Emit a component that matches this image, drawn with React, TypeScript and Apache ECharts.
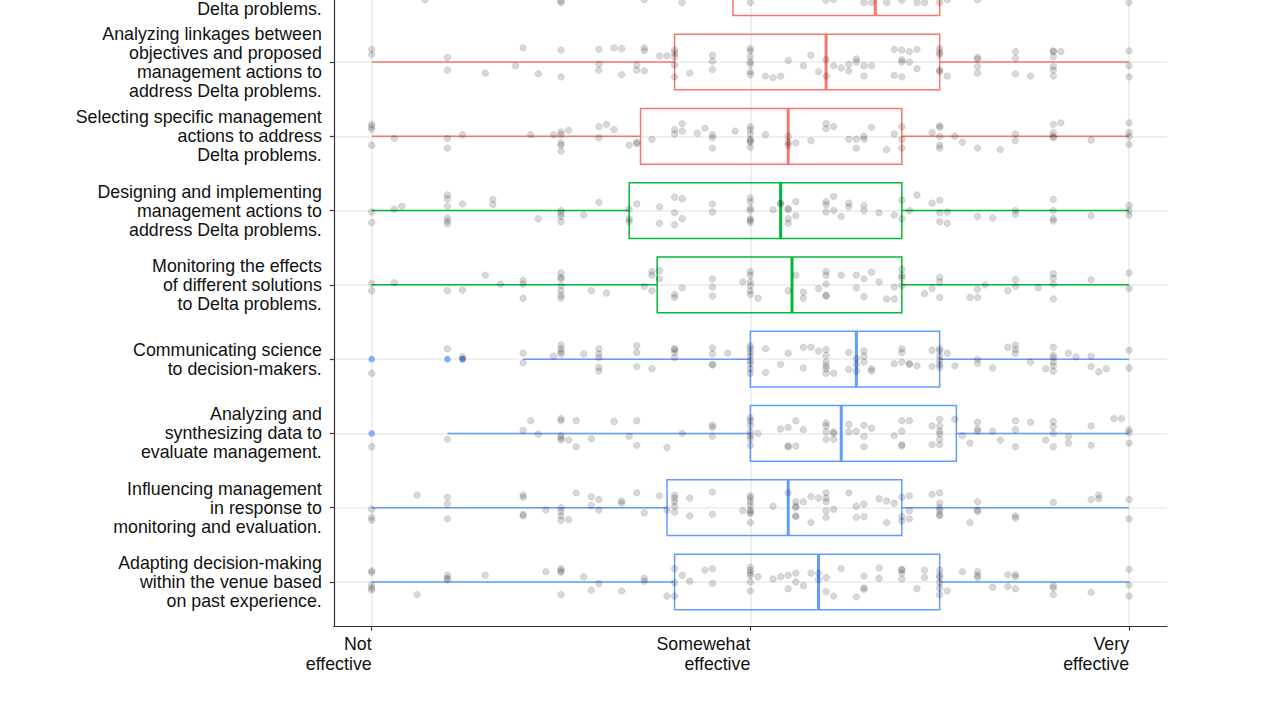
import { useEffect, useRef } from 'react';
import * as echarts from 'echarts';

// ---------- DATA ----------
// the first category is cropped by the top edge of the figure: only its last line is visible
const categories = [
  'Delta problems.',
  'Analyzing linkages between\nobjectives and proposed\nmanagement actions to\naddress Delta problems.',
  'Selecting specific management\nactions to address\nDelta problems.',
  'Designing and implementing\nmanagement actions to\naddress Delta problems.',
  'Monitoring the effects\nof different solutions\nto Delta problems.',
  'Communicating science\nto decision-makers.',
  'Analyzing and\nsynthesizing data to\nevaluate management.',
  'Influencing management\nin response to\nmonitoring and evaluation.',
  'Adapting decision-making\nwithin the venue based\non past experience.',
];
const groups = ['red', 'red', 'red', 'green', 'green', 'blue', 'blue', 'blue', 'blue'];

const boxMin = [0, 0, 0, 0, 0, 20, 10, 0, 0];
const boxQ1 = [47.7, 40, 35.5, 34, 37.7, 50, 50, 39, 40];
const boxMedian = [66.5, 60, 55, 54, 55.5, 64, 62, 55, 59];
const boxQ3 = [75, 75, 70, 70, 70, 75, 77.2, 70, 75];
const boxMax = [100, 100, 100, 100, 100, 100, 100, 100, 100];

const outlierRow = [5, 5, 5, 6];
const outlierValue = [0, 10, 12, 0];

const xTickValues = [0, 50, 100];
const xTickLabels = ['Not\neffective', 'Somewehat\neffective', 'Very\neffective'];

// jittered responses: [rating, vertical jitter in rows]
const jitter0: number[][] = [[7,0.16],[25,0.18],[25,0.2],[36,0.16],[41,0.2],[50,0.2],[60,0.17],[61,0.16],[65,0.2],[66,0.2],[68,0.2],[70,0.17],[72,0.2],[73,0.2],[75,0.2],[76,0.16],[80,0.16],[100,0.2]];
const jitter1: number[][] = [[0,-0.17],[0,-0.1],[10,-0.06],[10,0.11],[15,0.15],[20,-0.19],[19,0.05],[22,0.16],[25,-0.16],[25,0.2],[30,-0.17],[30,0.03],[30,0.11],[32,-0.19],[33,-0.18],[33,0.17],[36,-0.19],[36,-0.15],[35,0.04],[35,0.11],[36,0.12],[38,-0.08],[39,-0.08],[40,-0.16],[40,-0.12],[40,-0.07],[40,0.04],[40,0.2],[42,0.15],[45,-0.09],[45,-0.01],[45,0.1],[50,-0.18],[50,-0.15],[50,0],[50,0.03],[50,0.13],[50,0.17],[50,-0.07],[52,0.19],[53,0.21],[54,0.19],[55,-0.02],[57,0.05],[58,-0.09],[59,0.13],[60,-0.03],[60,0.19],[61,0.05],[62,0.08],[63,0.03],[63,0.12],[64,-0.04],[64,0],[65,0.05],[65,0.19],[66,0.05],[69,-0.17],[70,-0.16],[71,-0.14],[70,-0.03],[70,0],[71,0],[70,0.2],[69,0.18],[72,-0.17],[72,0.09],[75,-0.18],[75,-0.13],[75,-0.1],[75,0.11],[75,0.13],[76,0.19],[80,-0.06],[80,-0.04],[80,0.06],[80,0.15],[85,-0.14],[85,-0.05],[85,0.16],[87,0.19],[90,-0.14],[90,-0.15],[91,-0.14],[90,-0.07],[90,0.06],[90,0.11],[90,0.19],[100,-0.15],[100,0.05],[100,0.2]];
const jitter2: number[][] = [[0,-0.16],[0,-0.13],[0,-0.09],[0,0.12],[3,0.03],[10,0.03],[10,0.16],[12,-0.02],[21,-0.02],[24,-0.02],[25,-0.02],[25,-0.06],[25,0.09],[25,0.12],[25,0.2],[26,-0.08],[30,-0.13],[31,-0.16],[32,-0.09],[30,0.02],[34,0.12],[35,0.1],[35,0.08],[37,0.04],[40,-0.09],[40,-0.03],[41,-0.17],[41,-0.07],[43,-0.04],[44,-0.11],[45,-0.02],[45,0.02],[45,0.16],[48,-0.07],[50,-0.13],[50,-0.09],[50,-0.03],[50,0.04],[50,0.08],[50,0.15],[50,0.06],[52,-0.02],[55,0],[55,0.08],[55,0.12],[56,0.09],[58,0.06],[60,-0.17],[60,-0.1],[61,-0.13],[63,0.04],[64,0.04],[64,0.16],[65,0],[65,0.04],[66,-0.12],[68,0.18],[69,-0.03],[70,-0.13],[70,0.04],[70,0.16],[74,-0.05],[75,-0.14],[75,-0.12],[75,0],[75,0.12],[75,0.16],[77,0],[78,0.08],[80,0.16],[83,0.18],[85,-0.03],[85,0.06],[90,-0.16],[91,-0.18],[90,-0.05],[90,0],[90,0.02],[95,0.05],[100,-0.18],[100,-0.05],[100,0],[100,0.11]];
const jitter3: number[][] = [[0,0.02],[0,0.16],[3,-0.02],[4,-0.06],[10,-0.21],[10,-0.16],[10,-0.06],[10,0.1],[10,0.14],[10,0.18],[12,-0.09],[16,-0.15],[16,-0.08],[22,0.11],[25,0],[25,0.04],[25,0.08],[25,0.15],[28,0.06],[30,-0.11],[34,-0.02],[34,0.11],[34,0.15],[35,-0.09],[38,-0.05],[38,0.17],[40,-0.18],[41,-0.16],[40,0.03],[40,0.19],[41,0.11],[45,-0.09],[45,0.02],[50,-0.17],[50,-0.12],[50,-0.03],[50,0],[50,0.11],[50,0.16],[50,0.13],[53,-0.01],[54,-0.09],[54,-0.1],[55,-0.03],[55,-0.01],[56,-0.12],[55,0.11],[55,0.17],[56,0.07],[60,-0.12],[60,-0.08],[61,-0.19],[60,0.02],[61,0],[62,0.08],[63,-0.05],[63,-0.1],[65,-0.07],[65,0],[67,0.03],[69,0.06],[70,-0.14],[70,0.11],[71,0],[72,-0.21],[74,-0.1],[75,-0.14],[75,0.03],[75,0.15],[76,0.02],[76,0.17],[80,0.08],[82,0.1],[85,0],[85,0.05],[90,-0.15],[90,0],[90,0.11],[90,0.14],[95,0.07],[100,-0.07],[100,0],[100,0.06]];
const jitter4: number[][] = [[0,-0.02],[0,0.08],[3,-0.03],[10,0.08],[12,0.07],[15,-0.13],[17,-0.01],[20,-0.06],[20,-0.01],[20,0.18],[25,-0.16],[25,-0.1],[25,-0.08],[25,0.01],[25,0.08],[25,0.14],[25,0.18],[29,0.08],[31,0.11],[36,0.02],[37,0.08],[37,-0.13],[37,-0.18],[38,-0.19],[38,-0.08],[40,0.13],[40,0.17],[41,0.04],[45,-0.08],[45,0.03],[45,0.15],[50,-0.18],[50,-0.13],[50,-0.04],[50,0.01],[50,0.08],[50,0.13],[49,-0.04],[51,0.18],[55,0.08],[56,-0.13],[57,0.1],[57,0.18],[59,0.05],[60,-0.18],[60,-0.13],[60,-0.01],[60,0.15],[60,0.14],[62,-0.13],[64,-0.13],[64,0.04],[65,-0.08],[65,0.16],[66,-0.17],[67,-0.04],[68,0.19],[69,0.19],[69,0.03],[70,-0.21],[70,-0.09],[70,-0.13],[70,0.01],[73,0.12],[74,0.05],[75,-0.1],[75,-0.04],[75,0.17],[79,0.17],[80,0.17],[80,0.06],[81,0],[84,0.08],[85,-0.07],[85,0.02],[88,0.04],[90,-0.15],[90,-0.09],[90,-0.01],[90,0.19],[95,-0.07],[100,-0.16],[100,0.05]];
const jitter5: number[][] = [[0,0.19],[10,-0.14],[12,-0.03],[12,0],[20,-0.08],[20,0.05],[24,-0.04],[25,-0.19],[25,-0.14],[25,-0.1],[25,-0.07],[28,-0.07],[30,-0.14],[30,-0.07],[30,-0.02],[30,0.11],[30,0.16],[35,-0.18],[35,-0.09],[35,0.1],[37,0.13],[40,-0.14],[40,-0.13],[40,-0.09],[40,-0.02],[45,-0.15],[45,-0.07],[45,0.07],[45,0.08],[47,-0.08],[50,-0.18],[50,-0.14],[50,-0.09],[50,-0.04],[50,0.02],[50,0.06],[50,0.13],[50,0.19],[52,-0.14],[52,0.18],[54,0.07],[55,-0.08],[57,-0.16],[57,0.12],[58,-0.16],[59,-0.11],[60,-0.13],[60,-0.05],[60,0.04],[60,0.09],[60,0.13],[60,0.19],[61,0.19],[63,-0.09],[63,0.14],[64,-0.01],[64,0.07],[64,0.16],[65,-0.11],[65,-0.04],[65,0.04],[66,0.13],[66,0.16],[69,0.06],[70,-0.14],[70,-0.09],[70,0.04],[71,0.06],[71,0.07],[72,0.09],[74,-0.12],[75,-0.14],[75,-0.11],[75,-0.04],[75,0.02],[75,0.07],[75,0.11],[74,0.1],[76,-0.08],[77,0.09],[80,0],[80,0.06],[82,0.12],[84,-0.16],[85,-0.19],[85,-0.13],[85,-0.08],[87,0.04],[89,0.13],[90,-0.16],[90,-0.05],[90,-0.02],[90,0.04],[90,0.09],[90,0.16],[92,-0.08],[93,-0.03],[95,-0.04],[95,0.1],[96,0.17],[97,0.13],[100,-0.12],[100,0.12]];
const jitter6: number[][] = [[0,0.18],[10,0.08],[20,-0.04],[21,-0.17],[22,0.01],[25,-0.2],[25,-0.17],[25,0.03],[25,0.06],[25,0.09],[26,0.09],[27,-0.17],[27,0.18],[29,0.07],[32,-0.16],[34,0.04],[35,-0.17],[35,0.16],[39,0.19],[41,0],[45,-0.11],[45,-0.08],[45,0.04],[50,-0.21],[50,-0.17],[50,-0.11],[50,-0.02],[50,0.03],[50,0.07],[50,0.16],[51,0],[54,-0.06],[55,-0.08],[56,-0.17],[57,-0.05],[56,0.17],[55,0.18],[55,0.17],[60,-0.14],[60,-0.1],[60,-0.02],[60,0.08],[61,0],[61,0.08],[61,-0.02],[63,-0.12],[63,-0.02],[64,-0.03],[65,0.04],[65,-0.11],[66,-0.07],[65,0.18],[69,0.03],[70,-0.17],[71,-0.17],[70,-0.03],[70,0.15],[70,0.17],[74,-0.1],[75,-0.19],[75,-0.1],[75,-0.03],[75,0.01],[75,0.08],[75,0.15],[74,0.15],[77,-0.19],[78,0.03],[79,0.13],[80,-0.03],[80,-0.15],[80,-0.06],[82,-0.03],[83,0.09],[85,0.18],[85,-0.05],[85,-0.17],[87,-0.15],[89,0.09],[90,-0.16],[90,-0.09],[90,0],[90,0.18],[92,0.04],[92,0.13],[95,-0.1],[95,0.16],[98,-0.2],[99,-0.2],[100,-0.05],[100,-0.01],[100,0.13]];
const jitter7: number[][] = [[0,0.02],[0,0.13],[0,0.17],[6,-0.17],[10,-0.14],[10,-0.05],[10,0.15],[20,-0.14],[20,-0.17],[20,0.09],[20,0.11],[23,0.03],[25,0],[25,0.05],[25,0.11],[25,0.17],[26,0.16],[27,-0.2],[29,-0.15],[30,-0.11],[29,-0.03],[30,0.03],[33,-0.09],[33,-0.06],[35,-0.2],[36,0.07],[38,-0.16],[39,0.03],[40,-0.17],[40,-0.13],[40,-0.08],[40,-0.02],[40,0.06],[42,-0.13],[42,0.11],[45,-0.21],[45,0.09],[50,-0.16],[50,-0.13],[50,-0.08],[50,-0.03],[50,0.03],[50,0.08],[50,0.2],[50,0.06],[49,0.04],[53,-0.02],[55,-0.2],[56,-0.08],[56,0.12],[57,-0.08],[56,0],[56,-0.02],[56,0.11],[58,-0.15],[59,-0.13],[58,0.2],[60,-0.2],[60,-0.13],[60,-0.08],[61,0.02],[60,0.04],[60,0.13],[63,-0.2],[64,-0.02],[65,-0.05],[64,0.13],[65,0.12],[67,-0.12],[68,-0.09],[69,-0.06],[68,0.2],[70,-0.14],[71,-0.16],[71,0.04],[70,0.12],[70,0.18],[71,0.15],[74,-0.18],[75,-0.2],[75,-0.06],[75,0],[75,0.04],[75,0.11],[75,0.09],[79,0.2],[80,-0.08],[80,0.03],[80,0.05],[85,0.11],[85,0.14],[90,-0.07],[95,-0.11],[96,-0.12],[96,-0.17],[100,-0.11],[100,0.15]];
const jitter8: number[][] = [[0,-0.13],[0,-0.15],[0,0.04],[0,0.08],[0,0.11],[6,0.17],[10,-0.09],[10,-0.05],[10,-0.03],[15,-0.09],[23,-0.14],[25,-0.15],[25,-0.18],[25,-0.13],[25,0.17],[28,-0.07],[30,0.02],[29,0.11],[33,0.12],[36,-0.05],[36,-0.01],[39,0.19],[40,0.19],[40,-0.18],[40,0.01],[41,-0.09],[42,-0.01],[44,-0.16],[45,-0.18],[45,0.02],[50,-0.2],[50,-0.16],[50,-0.12],[50,-0.09],[50,0],[50,0.12],[51,-0.07],[53,-0.04],[54,-0.07],[55,-0.09],[55,0.09],[56,0],[56,-0.12],[57,0.05],[58,-0.12],[59,-0.12],[59,-0.03],[60,-0.06],[60,0.13],[61,0.19],[62,-0.18],[64,0.2],[65,-0.08],[65,0.08],[65,0.1],[67,-0.19],[67,-0.05],[70,-0.16],[70,-0.17],[70,-0.04],[70,-0.12],[72,0.09],[73,-0.16],[73,-0.06],[75,-0.16],[75,-0.09],[75,-0.06],[75,0.01],[75,0.08],[75,0.17],[76,0.12],[78,-0.14],[80,-0.14],[80,-0.09],[80,-0.06],[82,0.07],[84,-0.1],[84,0.06],[85,0.09],[85,-0.1],[85,-0.07],[90,0.05],[90,0.08],[90,0.17],[95,0.14],[100,-0.17],[100,0.04],[100,0.19]];

// ---------- STYLE ----------
const groupColors: Record<string, string> = { red: '#F8766D', green: '#00BA38', blue: '#619CFF' };
const FONT = "'Liberation Sans', Arial, Helvetica, sans-serif";

export default function App() {
  const ref = useRef<HTMLDivElement>(null);

  useEffect(() => {
    if (!ref.current) return;
    const chart = echarts.init(ref.current, null, { renderer: 'svg' });
    const jitterRows = [jitter0, jitter1, jitter2, jitter3, jitter4, jitter5, jitter6, jitter7, jitter8];
    const pointData: number[][] = [];
    jitterRows.forEach((pts, i) => pts.forEach(([x, j]) => pointData.push([x, i + j])));
    const boxData = categories.map((_, i) => [i, boxMin[i], boxQ1[i], boxMedian[i], boxQ3[i], boxMax[i]]);
    const outlierData = outlierValue.map((v, k) => ({
      value: [v, outlierRow[k]],
      itemStyle: { color: groupColors[groups[outlierRow[k]]] },
    }));
    const rowTicks = categories.map((_, i) => i);

    chart.setOption({
      animation: false,
      grid: { left: 333.8, right: 113.1, top: 13.43, bottom: 93.43, containLabel: false, outerBoundsMode: 'none' },
      xAxis: {
        type: 'value',
        min: -5,
        max: 105,
        axisLine: { show: true, onZero: false, lineStyle: { color: '#333', width: 1.2 } },
        axisTick: { show: true, length: 4, customValues: xTickValues, lineStyle: { color: '#333', width: 1.2 } },
        axisLabel: {
          customValues: xTickValues,
          formatter: (v: number) => xTickLabels[xTickValues.indexOf(v)] ?? '',
          align: 'right',
          margin: 8,
          fontSize: 17.8,
          lineHeight: 19.5,
          color: '#111',
          fontFamily: FONT,
        },
        splitLine: { show: true, lineStyle: { color: '#ebebeb', width: 1.6 } },
      },
      yAxis: {
        type: 'value',
        inverse: true,
        min: -1,
        max: 8.6,
        axisLine: { show: true, onZero: false, lineStyle: { color: '#333', width: 1.2 } },
        axisTick: { show: true, length: 4, customValues: rowTicks, lineStyle: { color: '#333', width: 1.2 } },
        axisLabel: {
          customValues: rowTicks,
          formatter: (v: number) => {
            const k = Math.round(v);
            return k === 0 ? '{cut|' + categories[0] + '}' : categories[k] ?? '';
          },
          align: 'right',
          margin: 12,
          fontSize: 17.8,
          lineHeight: 19,
          color: '#111',
          fontFamily: FONT,
          rich: {
            cut: { fontSize: 17.8, lineHeight: 19, color: '#111', fontFamily: FONT, padding: [42, 0, 0, 0] },
          },
        },
        splitLine: { show: true, lineStyle: { color: '#ebebeb', width: 1.6 } },
      },
      series: [
        {
          type: 'custom',
          z: 2,
          silent: true,
          encode: { x: [1, 2, 3, 4, 5], y: 0 },
          data: boxData,
          renderItem: (_params: any, api: any) => {
            const i = api.value(0);
            const color = groupColors[groups[i]];
            const half = 0.375;
            const lo = api.coord([api.value(1), i]);
            const q1 = api.coord([api.value(2), i]);
            const med = api.coord([api.value(3), i]);
            const q3 = api.coord([api.value(4), i]);
            const hi = api.coord([api.value(5), i]);
            const top = api.coord([api.value(2), i - half])[1];
            const bot = api.coord([api.value(2), i + half])[1];
            const lw = 1.5;
            return {
              type: 'group',
              children: [
                { type: 'line', shape: { x1: lo[0], y1: lo[1], x2: q1[0], y2: q1[1] }, style: { stroke: color, lineWidth: lw } },
                { type: 'line', shape: { x1: q3[0], y1: q3[1], x2: hi[0], y2: hi[1] }, style: { stroke: color, lineWidth: lw } },
                { type: 'rect', shape: { x: q1[0], y: top, width: q3[0] - q1[0], height: bot - top }, style: { stroke: color, fill: 'none', lineWidth: lw } },
                { type: 'line', shape: { x1: med[0], y1: top, x2: med[0], y2: bot }, style: { stroke: color, lineWidth: 3 } },
              ],
            };
          },
        },
        {
          type: 'scatter',
          z: 3,
          silent: true,
          symbol: 'circle',
          symbolSize: 6.5,
          data: outlierData,
        },
        {
          type: 'scatter',
          z: 4,
          silent: true,
          symbol: 'circle',
          symbolSize: 6.8,
          itemStyle: { color: 'rgba(0,0,0,0.19)', borderColor: 'rgba(0,0,0,0.13)', borderWidth: 0.8 },
          data: pointData,
        },
      ],
    });
    return () => chart.dispose();
  }, []);

  return (
    <div
      ref={ref}
      style={{ position: 'absolute', left: 0, top: -100, width: 1280, height: 820 }}
    />
  );
}
